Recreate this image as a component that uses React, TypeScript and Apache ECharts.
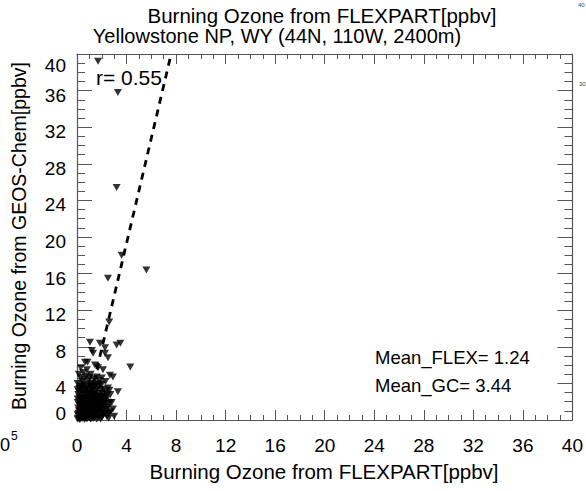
import React, { useEffect, useRef } from "react";
import * as echarts from "echarts";

const titleText = "Burning Ozone from FLEXPART[ppbv]";
const subtitleText = "Yellowstone NP, WY (44N, 110W, 2400m)";
const xAxisName = "Burning Ozone from FLEXPART[ppbv]";
const yAxisName = "Burning Ozone from GEOS-Chem[ppbv]";
const rText = "r= 0.55";
const meanFlexText = "Mean_FLEX= 1.24";
const meanGcText = "Mean_GC= 3.44";

const xMin = 0;
const xMax = 40;
const yMin = 0;
const yMax = 40;
const tickStep = 4;

// Scatter points [FLEXPART, GEOS-Chem]
const points: number[][] = [
  [0.1, 0.2], [0.2, 0.5], [0.3, 0.1], [0.4, 0.8], [0.5, 0.3], [0.6, 1.2], [0.7, 0.5], [0.8, 0.1],
  [0.9, 0.9], [1.0, 0.4], [1.1, 1.5], [1.2, 0.2], [1.3, 0.8], [1.4, 1.2], [1.5, 0.5], [1.6, 0.1],
  [1.7, 1.0], [1.8, 0.6], [1.9, 1.6], [2.0, 0.3], [2.1, 1.1], [2.2, 0.7], [2.3, 1.9], [2.4, 0.4],
  [0.2, 1.6], [0.3, 2.1], [0.5, 1.8], [0.7, 2.5], [0.8, 1.6], [1.0, 2.2], [1.2, 2.8], [1.3, 1.9],
  [1.5, 2.4], [1.6, 1.7], [1.8, 2.9], [2.0, 2.1], [0.1, 2.8], [0.4, 3.2], [0.9, 3.0], [1.1, 3.5],
  [1.4, 3.1], [1.7, 3.7], [2.2, 2.6], [2.5, 1.4], [2.7, 0.9], [2.8, 1.9], [0.15, 1.0], [0.35, 0.4],
  [0.55, 0.9], [0.65, 0.2], [0.85, 1.3], [1.05, 0.8], [1.25, 1.4], [1.45, 0.3], [1.65, 2.3], [1.85, 1.3],
  [0.05, 0.6], [0.25, 3.6], [0.45, 2.5], [0.6, 3.9], [0.95, 4.3], [1.2, 4.0], [1.5, 3.8], [0.3, 4.6],
  [0.75, 4.8], [1.35, 4.5], [1.9, 3.3], [2.3, 3.1], [0.5, 5.2], [1.1, 5.0], [0.05, 1.9], [0.05, 3.3],
  [0.05, 0.1], [0.15, 0.4], [0.25, 0.9], [0.35, 1.3], [0.45, 0.2], [0.55, 1.5], [0.75, 1.0], [0.95, 1.7],
  [1.15, 0.6], [1.35, 0.2], [1.55, 1.1], [1.75, 0.3], [1.95, 0.9], [2.15, 1.8], [2.35, 1.2], [2.55, 0.2],
  [0.2, 2.4], [0.6, 2.9], [0.9, 2.5], [1.3, 2.5], [1.7, 2.6], [2.1, 2.9], [2.4, 2.3], [0.15, 3.1],
  [0.7, 3.4], [1.0, 3.9], [1.6, 3.3], [2.0, 3.9], [2.7, 2.8], [2.9, 1.2], [3.0, 0.4], [0.3, 5.7],
  [0.8, 5.5], [1.6, 4.7], [2.3, 4.2],
  [0.1, 1.3], [0.2, 0.05], [0.3, 0.7], [0.4, 1.9], [0.5, 0.6], [0.6, 0.05], [0.7, 1.8], [0.8, 0.8],
  [0.9, 0.3], [1.0, 1.2], [1.1, 0.1], [1.2, 1.9], [1.3, 0.5], [1.4, 2.2], [1.5, 1.6], [1.6, 0.7],
  [1.7, 1.6], [1.8, 2.2], [1.9, 0.1], [2.0, 1.5], [2.1, 0.5], [2.2, 2.0], [0.35, 2.8], [0.65, 2.2],
  [1.05, 2.9], [1.45, 2.7], [0.5, 3.5], [0.85, 3.6], [1.25, 3.3], [1.85, 3.9], [2.45, 2.8], [2.6, 0.7],
  [0.05, 2.3], [0.05, 4.0], [0.15, 5.0],
  [0.12, 0.75], [0.28, 1.55], [0.42, 1.05], [0.58, 0.45], [0.72, 1.35], [0.88, 2.05], [1.02, 0.25], [1.18, 1.05],
  [1.32, 1.55], [1.48, 0.85], [1.62, 1.25], [1.78, 1.85], [1.92, 2.45], [2.08, 0.75], [2.22, 1.45], [2.38, 0.85],
  [2.52, 1.95], [0.22, 2.05], [0.48, 2.25], [0.62, 1.65], [0.78, 2.85], [1.12, 2.35], [1.38, 2.85], [1.58, 2.05],
  [1.72, 2.15], [2.02, 2.55], [2.28, 2.45], [0.18, 3.45], [0.42, 3.75], [0.82, 3.25], [1.22, 3.65], [1.62, 3.95],
  [2.12, 3.35], [2.62, 3.25], [0.62, 4.45], [1.02, 4.65], [1.78, 4.35],
  [0.4, 4.2], [2.0, 4.6], [2.9, 4.7], [2.5, 3.5], [3.3, 3.1], [2.66, 1.9], [2.66, 4.9], [1.3, 3.6],
  [0.65, 6.3], [0.85, 6.3], [1.45, 6.0], [1.7, 5.7], [2.1, 5.5], [2.5, 6.8], [1.2, 7.6], [1.3, 7.3],
  [1.05, 8.5], [1.85, 8.4], [2.26, 7.9], [2.26, 7.3], [3.2, 8.2], [3.5, 8.4], [4.3, 5.8],
  [2.6, 10.7], [2.5, 15.5], [3.6, 18.0], [5.6, 16.4], [3.2, 25.4], [3.3, 35.8], [1.7, 39.2],
];

// Regression line end points
const fitLine: number[][] = [
  [0.64, 0],
  [7.6, 40],
];

const FONT = "'Liberation Sans', Arial, Helvetica, sans-serif";
const AXIS_COLOR = "#555555";

export default function App() {
  const ref = useRef<HTMLDivElement>(null);

  useEffect(() => {
    if (!ref.current) return;
    const chart = echarts.init(ref.current, undefined, { renderer: "svg" });

    const baseAxis = {
      type: "value" as const,
      splitLine: { show: false },
      axisLine: { show: true, onZero: false, lineStyle: { color: AXIS_COLOR, width: 1.2 } },
    };
    const xTicks = {
      axisTick: { show: true, inside: true, length: 10, lineStyle: { color: AXIS_COLOR } },
      minorTick: { show: true, splitNumber: 4, length: 5, lineStyle: { color: AXIS_COLOR } },
    };
    const yTicks = {
      axisTick: { show: true, inside: true, length: 15, lineStyle: { color: AXIS_COLOR } },
      minorTick: { show: true, splitNumber: 4, length: 8, lineStyle: { color: AXIS_COLOR } },
    };
    const labelRich = {
      top: { fontSize: 19, fontFamily: FONT, color: "#000", padding: [22, 0, 0, 0] },
      bot: { fontSize: 19, fontFamily: FONT, color: "#000", padding: [0, 0, 14, 0] },
      mid: { fontSize: 19, fontFamily: FONT, color: "#000", padding: [9, 0, 0, 0] },
    };

    const option: echarts.EChartsOption = {
      animation: false,
      backgroundColor: "#ffffff",
      grid: { left: 77, right: 12, top: 54, bottom: 71 },
      xAxis: [
        {
          ...baseAxis,
          ...xTicks,
          min: xMin,
          max: xMax,
          interval: tickStep,
          position: "bottom",
          axisLabel: { color: "#000", fontSize: 19, fontFamily: FONT, margin: 16 },
        },
        {
          ...baseAxis,
          ...xTicks,
          min: xMin,
          max: xMax,
          interval: tickStep,
          position: "top",
          axisLabel: { show: false },
        },
      ],
      yAxis: [
        {
          ...baseAxis,
          ...yTicks,
          min: yMin,
          max: yMax,
          interval: tickStep,
          position: "left",
          axisLabel: {
            color: "#000",
            fontSize: 19,
            fontFamily: FONT,
            margin: 11,
            formatter: (v: number) =>
              v === yMax ? `{top|${v}}` : v === yMin ? `{bot|${v}}` : `{mid|${v}}`,
            rich: labelRich,
          },
        },
        {
          ...baseAxis,
          ...yTicks,
          min: yMin,
          max: yMax,
          interval: tickStep,
          position: "right",
          axisLabel: { show: false },
        },
      ],
      series: [
        {
          type: "scatter",
          xAxisIndex: 0,
          yAxisIndex: 0,
          data: points,
          symbol: "triangle",
          symbolRotate: 180,
          symbolSize: [8, 7],
          itemStyle: { color: "#000" },
          clip: false,
        },
        {
          type: "line",
          xAxisIndex: 0,
          yAxisIndex: 0,
          data: fitLine,
          symbol: "none",
          lineStyle: { color: "#000", width: 2.8, type: [7, 6] },
          clip: true,
        },
      ],
      graphic: [
        {
          type: "text",
          x: 322,
          y: 15,
          style: { text: titleText, font: `20.5px ${FONT}`, fill: "#000", textAlign: "center", textVerticalAlign: "middle" },
        },
        {
          type: "text",
          x: 277,
          y: 36,
          style: { text: subtitleText, font: `20px ${FONT}`, fill: "#000", textAlign: "center", textVerticalAlign: "middle" },
        },
        {
          type: "text",
          x: 324,
          y: 471,
          style: { text: xAxisName, font: `20.5px ${FONT}`, fill: "#000", textAlign: "center", textVerticalAlign: "middle" },
        },
        {
          type: "text",
          x: 19,
          y: 236,
          rotation: Math.PI / 2,
          style: { text: yAxisName, font: `19.5px ${FONT}`, fill: "#000", textAlign: "center", textVerticalAlign: "middle" },
        },
        {
          type: "text",
          x: 96,
          y: 77,
          style: { text: rText, font: `21px ${FONT}`, fill: "#000", textAlign: "left", textVerticalAlign: "middle" },
        },
        {
          type: "text",
          x: 375,
          y: 357,
          style: { text: meanFlexText, font: `18.5px ${FONT}`, fill: "#000", textAlign: "left", textVerticalAlign: "middle" },
        },
        {
          type: "text",
          x: 375,
          y: 385,
          style: { text: meanGcText, font: `18.5px ${FONT}`, fill: "#000", textAlign: "left", textVerticalAlign: "middle" },
        },
        {
          type: "text",
          x: 578,
          y: 5,
          style: { text: "40", font: `6px ${FONT}`, fill: "#444", textAlign: "left", textVerticalAlign: "middle" },
        },
        {
          type: "text",
          x: 579,
          y: 84,
          style: { text: "30", font: `6px ${FONT}`, fill: "#444", textAlign: "left", textVerticalAlign: "middle" },
        },
        {
          type: "text",
          x: 0,
          y: 445,
          style: { text: "0", font: `18px ${FONT}`, fill: "#000", textAlign: "left", textVerticalAlign: "middle" },
        },
        {
          type: "text",
          x: 11,
          y: 436,
          style: { text: "5", font: `12px ${FONT}`, fill: "#000", textAlign: "left", textVerticalAlign: "middle" },
        },
      ],
    };

    chart.setOption(option);
    return () => chart.dispose();
  }, []);

  return (
    <div
      ref={ref}
      style={{ position: "fixed", left: 0, top: 0, width: 586, height: 491, background: "#fff" }}
    />
  );
}
